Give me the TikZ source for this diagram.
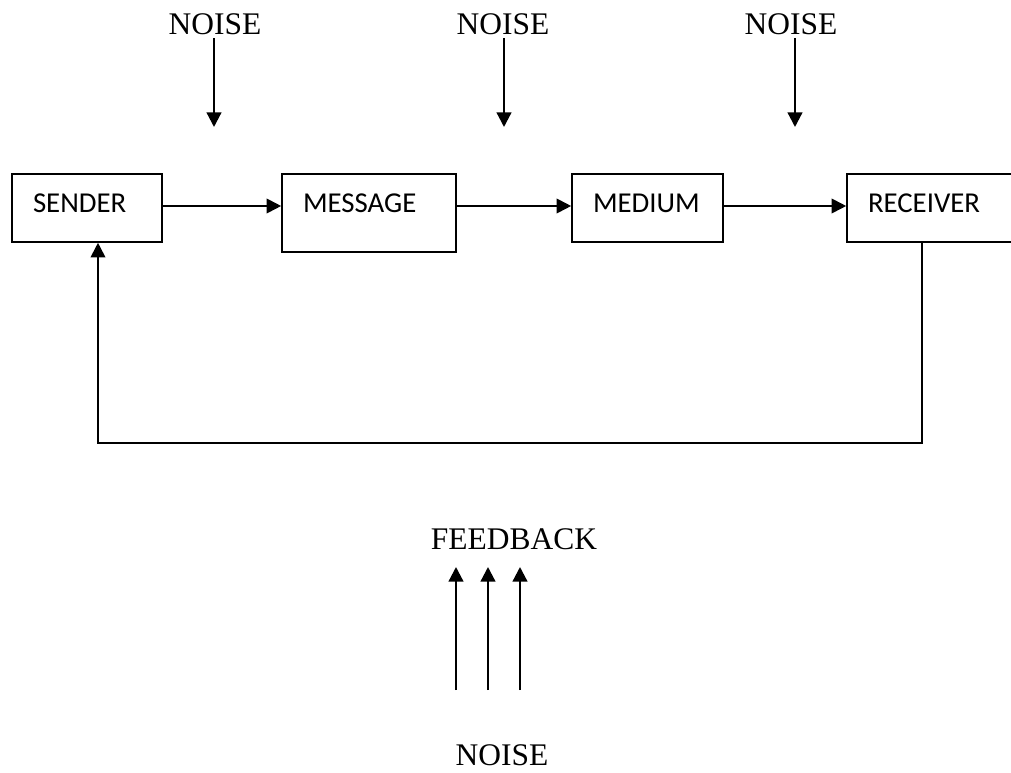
\documentclass[tikz,border=0pt]{standalone}
\usepackage{fontspec}
\setmainfont{Liberation Serif}
\newfontfamily\boxfont{Carlito}
\usetikzlibrary{arrows.meta}
\tikzset{
	block/.style={draw, rectangle, line width=1.2pt, inner xsep=15.75pt, inner ysep=0pt, align=left,
		font=\boxfont\fontsize{21.6}{26}\selectfont, text height=13.9pt, text depth=6.4pt, minimum height=51pt},
	flow/.style={line width=1.4pt, -{Triangle[length=11pt,width=11pt]}},
	noisetext/.style={font=\fontsize{23.6}{28}\selectfont, inner sep=2pt, anchor=base},
}

\begin{document}
\begin{tikzpicture}[x=0.75pt, y=-0.75pt]
		%%%%% START %%%%%
		\useasboundingbox (0,0) rectangle (1011,773);
		\clip (0,0) rectangle (1011,773);
		
		\node[block, text width=81pt] (sender) at (87,208) {SENDER};
		\node[block, text width=99pt, minimum height=58.5pt, text depth=13.9pt] (message) at (369,213) {MESSAGE};
		\node[block, text width=81.75pt] (medium) at (647.5,208) {MEDIUM};
		\node[block, text width=99.75pt] (receiver) at (934.5,208) {RECEIVER};
		
		\draw[flow] ([yshift=1.5pt]sender.east) -- ([yshift=1.5pt]sender.east -| message.west);
		\draw[flow] ([yshift=1.5pt]medium.west -| message.east) -- ([yshift=1.5pt]medium.west);
		\draw[flow] ([yshift=1.5pt]medium.east) -- ([yshift=1.5pt]receiver.west);
		
		% feedback loop
		\coordinate (fbtop) at (922,242);
		\coordinate (fbcorner) at (98,443);
		\draw[flow] (fbtop) |- (fbcorner) -- (sender.south -| fbcorner);
		
		% noise on top
		\node[noisetext] (noiseA) at (215,35) {NOISE};
		\node[noisetext] (noiseB) at (503,35) {NOISE};
		\node[noisetext] (noiseC) at (791,35) {NOISE};
		\coordinate (tipA) at (214,127);
		\coordinate (tipB) at (504,127);
		\coordinate (tipC) at (795,127);
		\draw[flow, line width=1.7pt] (tipA |- noiseA.south) -- (tipA);
		\draw[flow, line width=1.7pt] (tipB |- noiseB.south) -- (tipB);
		\draw[flow, line width=1.7pt] (tipC |- noiseC.south) -- (tipC);
		
		% feedback and noise below
		\node[noisetext] (feedback) at (514,550) {FEEDBACK};
		\node[noisetext] (noiseD) at (502,765) {NOISE};
		\foreach \x [count=\i] in {456,488,520}{
			\coordinate (low\i) at (\x,690);
			\coordinate (high\i) at (\x,567);
			\draw[flow, line width=1.7pt] (low\i) -- (high\i);
		}
		
		%%%%% END %%%%%
\end{tikzpicture}
\end{document}
